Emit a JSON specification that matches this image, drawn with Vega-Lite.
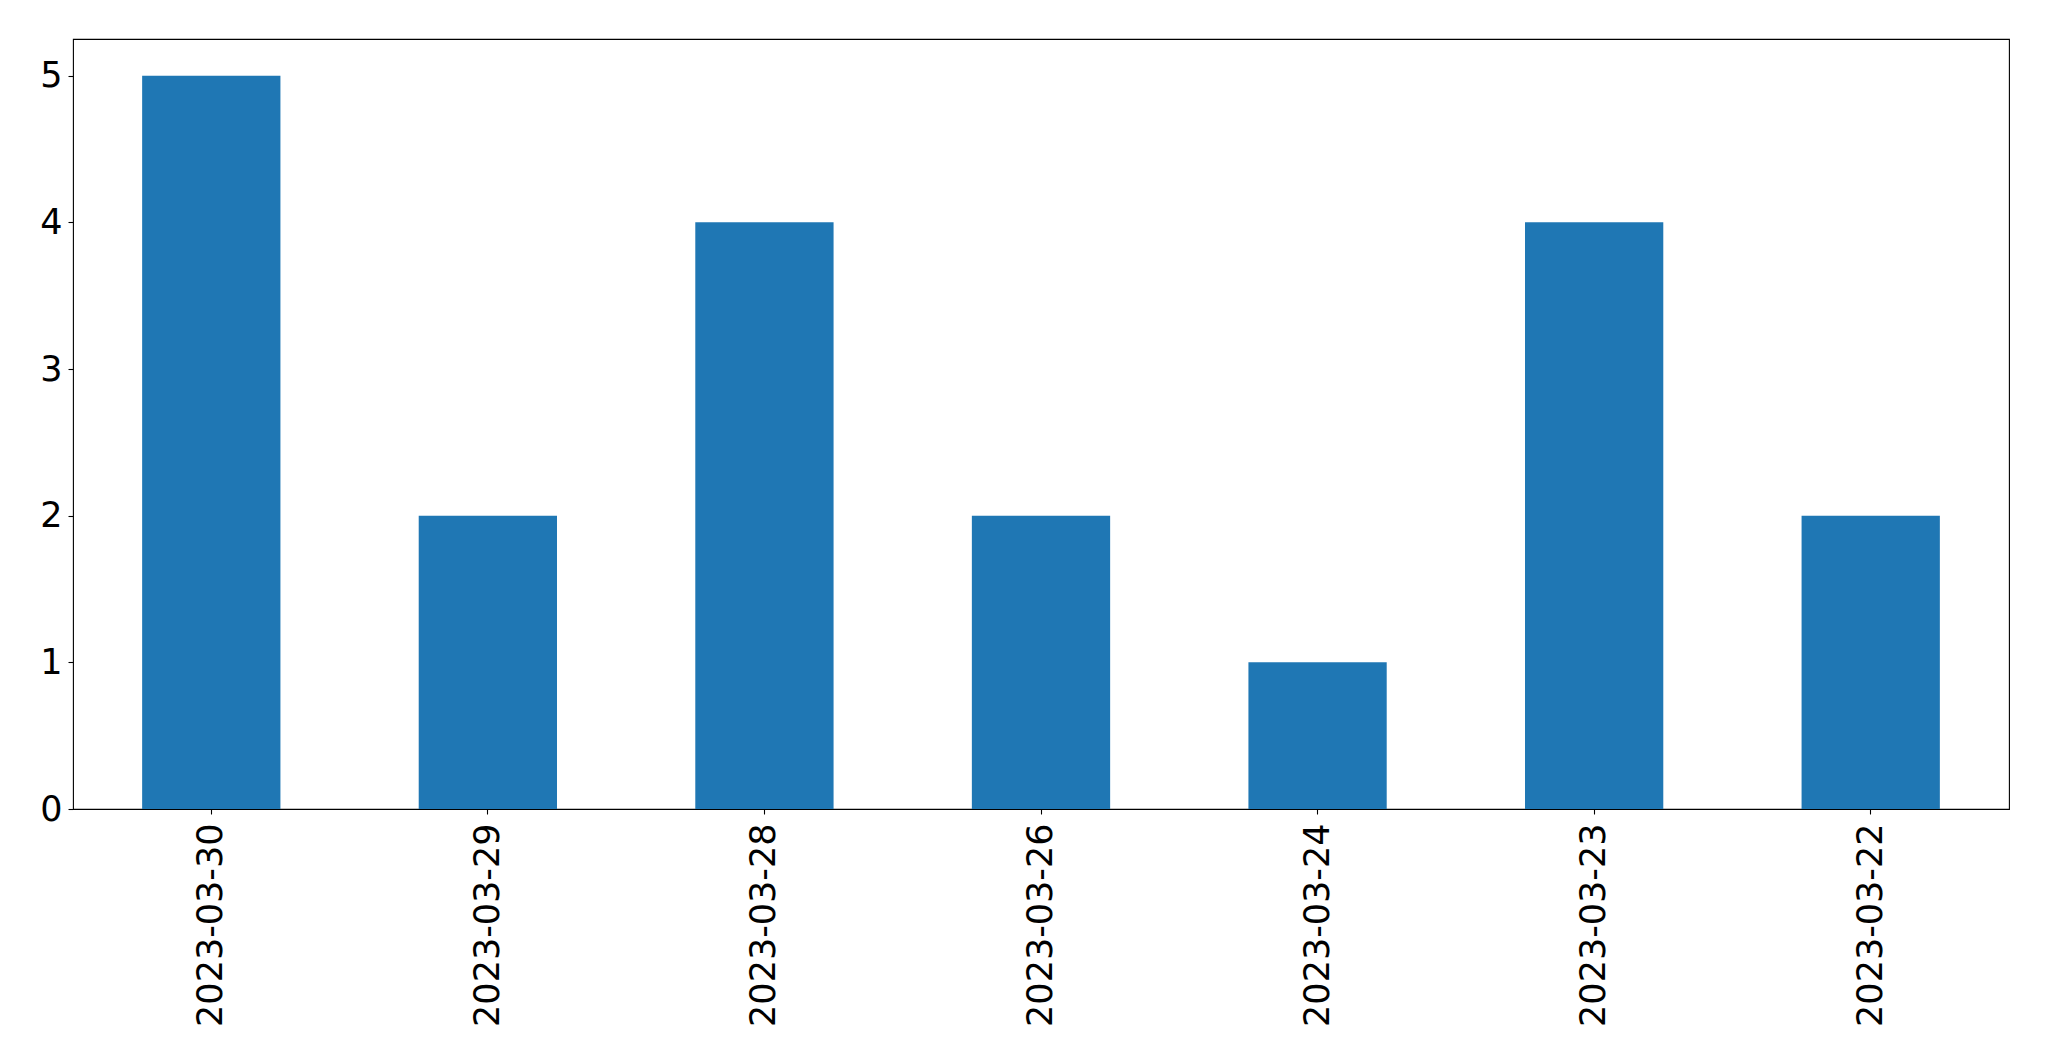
{
  "$schema": "https://vega.github.io/schema/vega-lite/v6.json",
  "autosize": "none",
  "width": 1936,
  "height": 770,
  "padding": {"left": 73, "top": 39, "right": 40, "bottom": 252},
  "background": "white",
  "data": {
    "values": [
      {"date": "2023-03-30", "count": 5},
      {"date": "2023-03-29", "count": 2},
      {"date": "2023-03-28", "count": 4},
      {"date": "2023-03-26", "count": 2},
      {"date": "2023-03-24", "count": 1},
      {"date": "2023-03-23", "count": 4},
      {"date": "2023-03-22", "count": 2}
    ]
  },
  "mark": {"type": "bar", "color": "#1f77b4"},
  "encoding": {
    "x": {
      "field": "date",
      "type": "nominal",
      "sort": null,
      "scale": {"paddingInner": 0.5, "paddingOuter": 0.25},
      "axis": {
        "title": null,
        "labelAngle": 270,
        "labelAlign": "right",
        "labelBaseline": "middle",
        "labelFont": "DejaVu Sans",
        "labelFontSize": 35,
        "labelColor": "black",
        "labelPadding": 9,
        "labelLimit": 0,
        "tickSize": 5,
        "tickColor": "black",
        "tickWidth": 1.1,
        "domain": false,
        "grid": false
      }
    },
    "y": {
      "field": "count",
      "type": "quantitative",
      "scale": {"domain": [0, 5.25], "nice": false, "zero": true},
      "axis": {
        "title": null,
        "values": [0, 1, 2, 3, 4, 5],
        "labelFont": "DejaVu Sans",
        "labelFontSize": 35,
        "labelColor": "black",
        "labelPadding": 6,
        "labelLimit": 0,
        "tickSize": 5,
        "tickColor": "black",
        "tickWidth": 1.1,
        "domain": false,
        "grid": false
      }
    }
  },
  "config": {
    "view": {"stroke": "black", "strokeWidth": 1.1}
  }
}
